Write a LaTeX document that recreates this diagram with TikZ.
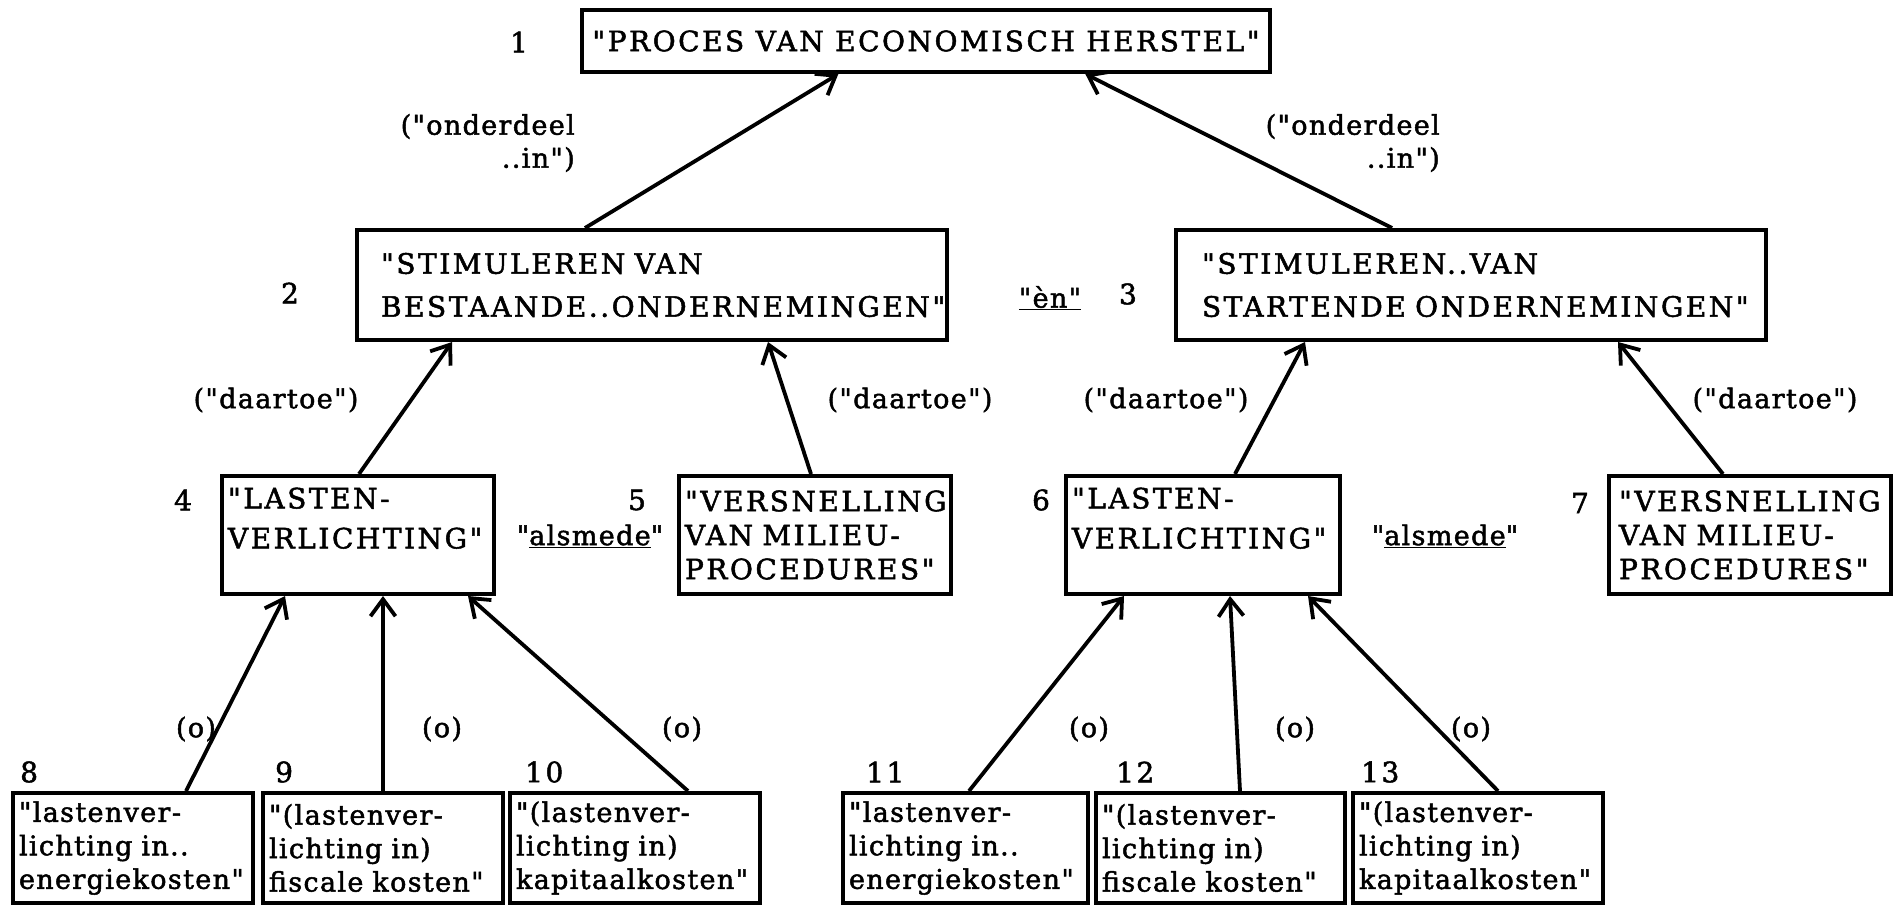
\documentclass[tikz,border=0pt]{standalone}
\usepackage{fontspec}
\setmainfont{DejaVu Serif}
\newfontfamily\capfont[LetterSpace=9, FakeBold=1.8]{DejaVu Serif}
\newfontfamily\lowfont[LetterSpace=5, FakeBold=1.8]{DejaVu Serif}
\usetikzlibrary{arrows.meta}
\begin{document}
\begin{tikzpicture}[x=1pt,y=-1pt,
  box/.style={draw, line width=4pt, inner ysep=0pt, align=left},
  capwide/.style={font=\capfont\fontsize{28}{40}\selectfont},
  captwo/.style={font=\capfont\fontsize{28}{43}\selectfont},
  capnarrow/.style={font=\capfont\fontsize{28}{34}\selectfont},
  lowtext/.style={font=\lowfont\fontsize{27}{33.5}\selectfont},
  numlbl/.style={inner sep=0pt, font=\capfont\fontsize{28}{34}\selectfont},
  rellbl/.style={inner sep=0pt, align=right, font=\lowfont\fontsize{27}{33}\selectfont},
  arr/.style={line width=3.8pt, -{Straight Barb[length=17pt,width=25pt]}}
]
\useasboundingbox (0,0) rectangle (1898,906);

% top level
\node[box, capnarrow, align=center, inner xsep=10pt, minimum width=678pt, minimum height=62pt] (p1) at (926,41) {"PROCES VAN ECONOMISCH HERSTEL"};
\node[numlbl] (n1) at (519,42) {1};

% second level
\node[box, captwo, inner xsep=24pt, minimum width=590pt, minimum height=110pt, text width=542pt] (p2) at (652,285) {\mbox{"STIMULEREN VAN}\\\mbox{BESTAANDE..ONDERNEMINGEN"}};
\node[box, captwo, inner xsep=26pt, minimum width=590pt, minimum height=110pt, text width=538pt] (p3) at (1471,285) {\mbox{"STIMULEREN..VAN}\\\mbox{STARTENDE ONDERNEMINGEN"}};
\node[numlbl] (n2) at (290,293) {2};
\node[numlbl] (n3) at (1128,294) {3};
\node[numlbl, font=\lowfont\fontsize{27}{33}\selectfont] (en) at (1050,298) {\underline{"èn"}};

% third level
\node[box, capwide, inner xsep=6pt, minimum width=272pt, minimum height=118pt, text width=260pt] (p4) at (358,535) {"LASTEN-\\\mbox{VERLICHTING"}\\[-6pt]\mbox{}};
\node[box, capnarrow, inner xsep=6pt, minimum width=272pt, minimum height=118pt, text width=260pt] (p5) at (815,535) {\mbox{"VERSNELLING}\\VAN MILIEU-\\\mbox{PROCEDURES"}};
\node[box, capwide, inner xsep=6pt, minimum width=274pt, minimum height=118pt, text width=262pt] (p6) at (1203,535) {"LASTEN-\\\mbox{VERLICHTING"}\\[-6pt]\mbox{}};
\node[box, capnarrow, inner xsep=10pt, minimum width=282pt, minimum height=118pt, text width=262pt] (p7) at (1750,535) {\mbox{"VERSNELLING}\\VAN MILIEU-\\\mbox{PROCEDURES"}};
\node[numlbl] (n4) at (183,500) {4};
\node[numlbl] (n5) at (637,500) {5};
\node[numlbl] (n6) at (1041,500) {6};
\node[numlbl] (n7) at (1580,503) {7};
\node[rellbl] (als1) at (590,536) {"\underline{alsmede}"};
\node[rellbl] (als2) at (1445,536) {"\underline{alsmede}"};

% bottom level
\node[box, lowtext, inner xsep=6pt, minimum width=240pt, minimum height=110pt, text width=228pt] (p8) at (133,848) {"lastenver-\\lichting in..\\\mbox{energiekosten"}};
\node[box, lowtext, inner xsep=6pt, minimum width=240pt, minimum height=110pt, text width=228pt] (p9) at (383,848) {"(lastenver-\\lichting in)\\\mbox{fiscale kosten"}};
\node[box, lowtext, inner xsep=6pt, minimum width=250pt, minimum height=110pt, text width=238pt] (p10) at (635,848) {"(lastenver-\\lichting in)\\\mbox{kapitaalkosten"}};
\node[box, lowtext, inner xsep=6pt, minimum width=245pt, minimum height=110pt, text width=233pt] (p11) at (965.5,848) {"lastenver-\\lichting in..\\\mbox{energiekosten"}};
\node[box, lowtext, inner xsep=6pt, minimum width=249pt, minimum height=110pt, text width=237pt] (p12) at (1220.5,848) {"(lastenver-\\lichting in)\\\mbox{fiscale kosten"}};
\node[box, lowtext, inner xsep=6pt, minimum width=250pt, minimum height=110pt, text width=238pt] (p13) at (1478,848) {"(lastenver-\\lichting in)\\\mbox{kapitaalkosten"}};
\node[numlbl, anchor=west] (n8) at (20,772) {8};
\node[numlbl, anchor=west] (n9) at (275,772) {9};
\node[numlbl, anchor=west] (n10) at (525,772) {10};
\node[numlbl, anchor=west] (n11) at (866,772) {11};
\node[numlbl, anchor=west] (n12) at (1116,772) {12};
\node[numlbl, anchor=west] (n13) at (1361,772) {13};

% relation labels
\node[rellbl, anchor=east] (r21) at (575,143) {("onderdeel\\..in")};
\node[rellbl, anchor=east] (r31) at (1440,143) {("onderdeel\\..in")};
\node[rellbl] (r42) at (276,400) {("daartoe")};
\node[rellbl] (r52) at (910,400) {("daartoe")};
\node[rellbl] (r63) at (1166,400) {("daartoe")};
\node[rellbl] (r73) at (1775,400) {("daartoe")};
\node[rellbl] (o8) at (196,729) {(o)};
\node[rellbl] (o9) at (442,729) {(o)};
\node[rellbl] (o10) at (682,729) {(o)};
\node[rellbl] (o11) at (1089,729) {(o)};
\node[rellbl] (o12) at (1295,729) {(o)};
\node[rellbl] (o13) at (1471,729) {(o)};

% connectors
\draw[arr] ([xshift=230pt]p2.north west) -- ([xshift=258pt]p1.south west);
\draw[arr] ([xshift=218pt]p3.north west) -- ([xshift=505pt]p1.south west);
\draw[arr] ([xshift=139pt]p4.north west) -- ([xshift=97pt]p2.south west);
\draw[arr] ([xshift=134pt]p5.north west) -- ([xshift=413pt]p2.south west);
\draw[arr] ([xshift=171pt]p6.north west) -- ([xshift=131pt]p3.south west);
\draw[arr] ([xshift=116pt]p7.north west) -- ([xshift=444pt]p3.south west);
\draw[arr] ([xshift=175pt]p8.north west) -- ([xshift=65pt]p4.south west);
\draw[arr] ([xshift=122pt]p9.north west) -- ([xshift=163pt]p4.south west);
\draw[arr] ([xshift=180pt]p10.north west) -- ([xshift=248pt]p4.south west);
\draw[arr] ([xshift=128pt]p11.north west) -- ([xshift=60pt]p6.south west);
\draw[arr] ([xshift=146pt]p12.north west) -- ([xshift=166pt]p6.south west);
\draw[arr] ([xshift=147pt]p13.north west) -- ([xshift=244pt]p6.south west);
\end{tikzpicture}
\end{document}
